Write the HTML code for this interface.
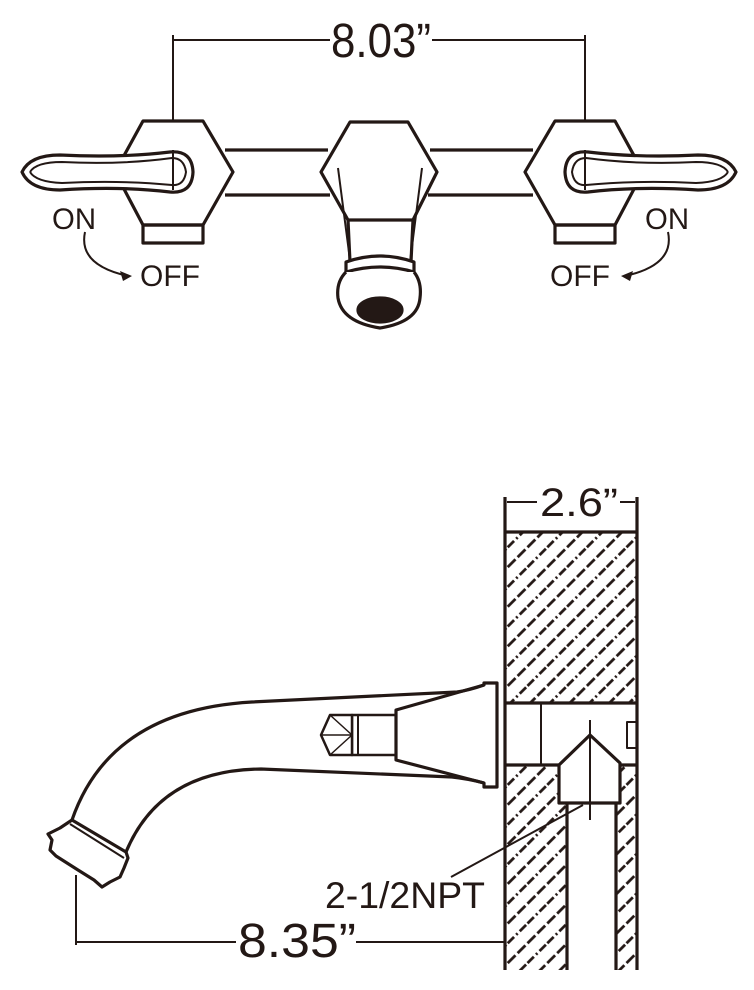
<!DOCTYPE html>
<html><head><meta charset="utf-8"><style>
html,body{margin:0;padding:0;background:#fff;}
svg{display:block;}
text{font-family:"Liberation Sans",Arial,sans-serif;fill:#231815;}
</style></head><body>
<svg width="754" height="990" viewBox="0 0 754 990" xmlns="http://www.w3.org/2000/svg">
<defs>
<pattern id="h" patternUnits="userSpaceOnUse" width="28" height="28" patternTransform="rotate(-45)">
<line x1="0" y1="4" x2="28" y2="4" stroke="#231815" stroke-width="2.8" stroke-dasharray="11 3"/>
<line x1="0" y1="18" x2="28" y2="18" stroke="#231815" stroke-width="2.8" stroke-dasharray="9 3 2 3"/>
</pattern>
</defs>
<g fill="none" stroke="#231815" stroke-width="3.2" stroke-linejoin="round">
<line x1="173" y1="35" x2="173" y2="190" stroke-width="2"/>
<line x1="585" y1="35" x2="585" y2="190" stroke-width="2"/>
<line x1="173" y1="40" x2="330" y2="40" stroke-width="2"/>
<line x1="432" y1="40" x2="585" y2="40" stroke-width="2"/>
<line x1="225" y1="150" x2="328" y2="150"/><line x1="225" y1="195" x2="330" y2="195"/>
<line x1="430" y1="150" x2="533" y2="150"/><line x1="428" y1="195" x2="533" y2="195"/>
<polygon points="143,121 203,121 233,172 203,225 143,225 115,172" fill="#fff"/>
<rect x="143" y="225" width="60" height="18"/>
<polygon points="555,121 615,121 643,172 615,225 555,225 525,172" fill="#fff"/>
<rect x="555" y="225" width="60" height="18"/>
<polygon points="350,122 408,122 437,172 413,220 348,220 321,172" fill="#fff"/>
<path d="M338,168 Q344,215 350,260 M422,168 Q416,215 410,262" stroke-width="2"/>
<path d="M348,220 L350,262 M413,220 L411,262"/>
<path d="M346,262 Q380,250 414,262 L414,272 Q380,262 346,272 Z" fill="#fff"/>
<path d="M346,272 Q336,282 338,298 Q342,322 380,328 Q418,322 420,298 Q422,282 414,272" fill="#fff"/>
<ellipse cx="380" cy="310" rx="22" ry="12" fill="#231815"/>
<path d="M22,172 Q30,155 60,155 Q120,158 170,152 Q192,150 193,172 Q192,194 170,192 Q120,186 60,190 Q30,190 22,172 Z" fill="#fff"/>
<path d="M30,172 Q36,162 62,162 Q120,165 172,158 Q184,158 186,172 Q184,186 172,185 Q120,180 62,183 Q36,182 30,172" stroke-width="2"/>
<line x1="173" y1="150" x2="173" y2="190" stroke-width="2"/>
<path d="M736,172 Q728,155 698,155 Q638,158 588,152 Q566,150 565,172 Q566,194 588,192 Q638,186 698,190 Q728,190 736,172 Z" fill="#fff"/>
<path d="M728,172 Q722,162 696,162 Q638,165 586,158 Q574,158 572,172 Q574,186 586,185 Q638,180 696,183 Q722,182 728,172" stroke-width="2"/>
<line x1="585" y1="150" x2="585" y2="190" stroke-width="2"/>
<path d="M85,232 Q78,265 128,276" stroke-width="2"/>
<path d="M668,232 Q675,265 625,276" stroke-width="2"/>
</g>
<polygon points="132,276 120,271 123,281" fill="#231815"/>
<polygon points="621,276 633,271 630,281" fill="#231815"/>
<text x="331" y="57" font-size="48" textLength="100" lengthAdjust="spacingAndGlyphs">8.03”</text>
<text x="52" y="229" font-size="30" textLength="44" lengthAdjust="spacingAndGlyphs">ON</text>
<text x="140" y="286" font-size="30" textLength="60" lengthAdjust="spacingAndGlyphs">OFF</text>
<text x="645" y="229" font-size="30" textLength="44" lengthAdjust="spacingAndGlyphs">ON</text>
<text x="550" y="286" font-size="30" textLength="60" lengthAdjust="spacingAndGlyphs">OFF</text>

<rect x="505" y="532" width="132" height="171" fill="url(#h)"/>
<rect x="505" y="765" width="62" height="205" fill="url(#h)"/>
<rect x="616" y="765" width="21" height="205" fill="url(#h)"/>
<g fill="none" stroke="#231815" stroke-width="3.2" stroke-linejoin="round">
<line x1="505" y1="497" x2="505" y2="970"/>
<line x1="637" y1="497" x2="637" y2="970"/>
<line x1="505" y1="532" x2="637" y2="532"/>
<line x1="505" y1="703" x2="637" y2="703"/>
<line x1="505" y1="765" x2="559" y2="765"/><line x1="620" y1="765" x2="637" y2="765"/>
<line x1="567" y1="803" x2="567" y2="970"/>
<line x1="616" y1="803" x2="616" y2="970"/>
<line x1="541" y1="703" x2="541" y2="765" stroke-width="2"/>
<rect x="627" y="722" width="10" height="26" stroke-width="2"/>
<polygon points="590,735 620,763 620,803 559,803 559,765" fill="#fff"/>
<line x1="590" y1="720" x2="590" y2="820" stroke-width="2"/>
<line x1="583" y1="805" x2="451" y2="877" stroke-width="2"/>
<line x1="507" y1="502" x2="537" y2="502" stroke-width="2"/>
<line x1="620" y1="502" x2="635" y2="502" stroke-width="2"/>
<path d="M497,683 L497,787 L484,787 L484,783 L396,760 L396,710 L484,685 L484,683 Z" fill="#fff"/>
<path d="M484,685 Q470,690 457,692 L252,702 Q110,710 72,820"/>
<path d="M484,783 Q470,779 452,777 L261,769 Q160,770 126,852"/>
<rect x="352" y="715" width="44" height="40" stroke-width="2.5"/>
<line x1="358" y1="715" x2="358" y2="755" stroke-width="2"/>
<polygon points="352,715 330,715 321,735 330,755 352,755" stroke-width="2.5" fill="#fff"/>
<path d="M322,735 L352,735 M330,715 L352,735 L330,755" stroke-width="1.5"/>
<path d="M72,820 L126,852 L128,858 L124,868 L120,877 L110,882 L102,887 L94,880 L78,870 L56,856 L50,850 L52,840 L48,834 L60,828 Z" fill="#fff"/>
<path d="M70,824 L124,858" stroke-width="2"/>
<line x1="76" y1="875" x2="76" y2="945" stroke-width="2"/>
<line x1="76" y1="942" x2="236" y2="942" stroke-width="2"/>
<line x1="356" y1="942" x2="505" y2="942" stroke-width="2"/>
</g>
<text x="540" y="516" font-size="40" textLength="78" lengthAdjust="spacingAndGlyphs">2.6”</text>
<text x="325" y="908" font-size="37" textLength="160" lengthAdjust="spacingAndGlyphs">2-1/2NPT</text>
<text x="238" y="957" font-size="48" textLength="118" lengthAdjust="spacingAndGlyphs">8.35”</text>
</svg>
</body></html>
